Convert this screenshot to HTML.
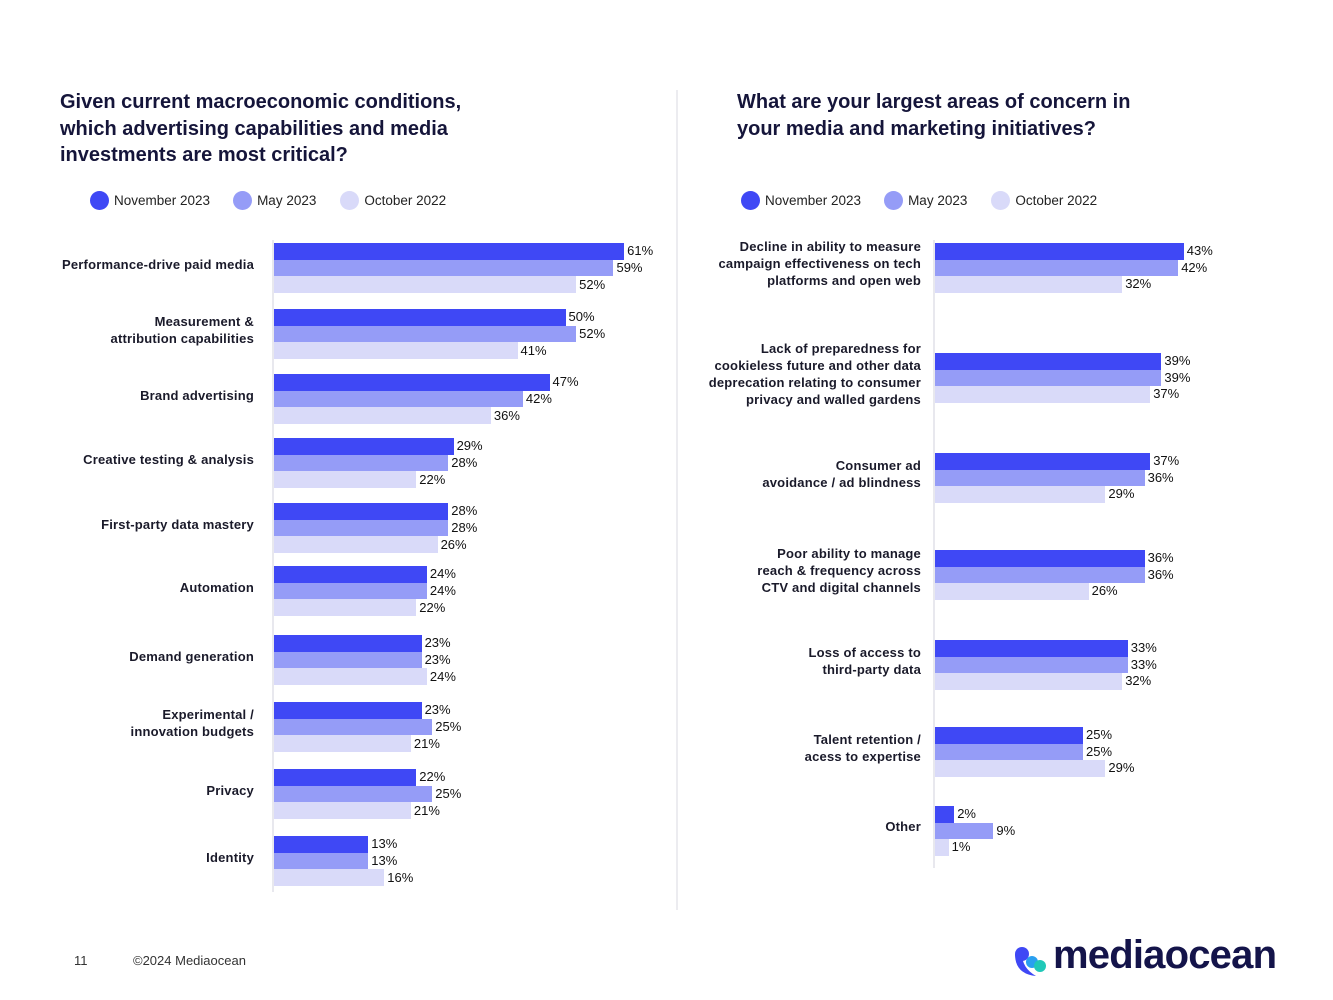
<!DOCTYPE html>
<html><head><meta charset="utf-8"><style>
body{margin:0;width:1333px;height:1000px;background:#fff;position:relative;overflow:hidden;font-family:"Liberation Sans",sans-serif;color:#111}
.abs{position:absolute}
.title{font-size:20px;font-weight:bold;line-height:26.5px;color:#15153a}
.leg{font-size:13.5px;color:#222;display:flex;align-items:center}
.dot{width:19px;height:19px;border-radius:50%;display:inline-block;margin-right:5px}
.cat{font-size:13px;font-weight:bold;text-align:right;line-height:17px;color:#1a1a2a;white-space:nowrap;letter-spacing:0.2px}
.val{font-size:13px;color:#111;line-height:16px}
.axis{background:#e8e8ee;width:2px}
</style></head><body>
<div class="abs title" style="left:60px;top:89px;width:445px">Given current macroeconomic conditions, which advertising capabilities and media investments are most critical?</div>
<div class="abs title" style="left:737px;top:89px;width:432px">What are your largest areas of concern in your media and marketing initiatives?</div>
<div class="abs" style="left:676px;top:90px;width:2px;height:820px;background:#ececf0"></div>

<div class="abs leg" style="left:90px;top:191px">
<span class="leg"><span class="dot" style="background:#3f48f5"></span>November 2023</span>
<span class="leg" style="margin-left:23px"><span class="dot" style="background:#959cf7"></span>May 2023</span>
<span class="leg" style="margin-left:24px"><span class="dot" style="background:#d9daf9"></span>October 2022</span></div>
<div class="abs leg" style="left:741px;top:191px">
<span class="leg"><span class="dot" style="background:#3f48f5"></span>November 2023</span>
<span class="leg" style="margin-left:23px"><span class="dot" style="background:#959cf7"></span>May 2023</span>
<span class="leg" style="margin-left:24px"><span class="dot" style="background:#d9daf9"></span>October 2022</span></div>

<div class="abs" style="left:74px;top:953px;font-size:13px;color:#333">11</div>
<div class="abs" style="left:133px;top:953px;font-size:13px;color:#333">©2024 Mediaocean</div>
<div class="abs" style="left:1012px;top:941px;width:280px;height:40px">
<svg width="40" height="36" style="position:absolute;left:0;top:3px"><circle cx="10" cy="10" r="7" fill="#3f48f5"/><path d="M3 10 Q3 30 24 32 Q10 24 10 10Z" fill="#3f48f5"/><circle cx="20" cy="18" r="6" fill="#2aa0f0"/><circle cx="28" cy="22" r="6" fill="#20c8b8"/></svg>
<span style="position:absolute;left:41px;top:-8px;font-size:40px;font-weight:bold;color:#14144a;letter-spacing:-0.8px">mediaocean</span></div>

<div id="root"></div>
<script>
const leftCats=["Performance-drive paid media","Measurement &\nattribution capabilities","Brand advertising","Creative testing & analysis","First-party data mastery","Automation","Demand generation","Experimental /\ninnovation budgets","Privacy","Identity"];
const leftNov=[61,50,47,29,28,24,23,23,22,13];
const leftMay=[59,52,42,28,28,24,23,25,25,13];
const leftOct=[52,41,36,22,26,22,24,21,21,16];
const rightCats=["Decline in ability to measure\ncampaign effectiveness on tech\nplatforms and open web","Lack of preparedness for\ncookieless future and other data\ndeprecation relating to consumer\nprivacy and walled gardens","Consumer ad\navoidance / ad blindness","Poor ability to manage\nreach & frequency across\nCTV and digital channels","Loss of access to\nthird-party data","Talent retention /\nacess to expertise","Other"];
const rightNov=[43,39,37,36,33,25,2];
const rightMay=[42,39,36,36,33,25,9];
const rightOct=[32,37,29,26,32,29,1];
const colors=["#3f48f5","#959cf7","#d9daf9"];
const root=document.getElementById('root');
function chart(cfg){
  const ax=document.createElement('div');ax.className='abs axis';
  
  
  ax.style.left=(cfg.x0-2)+'px';ax.style.top=cfg.axTop+'px';ax.style.height=cfg.axH+'px';root.appendChild(ax);
  const w=v=>cfg.a+cfg.b*v;
  cfg.cats.forEach((c,i)=>{
    const top=cfg.tops[i];
    const series=[cfg.nov[i],cfg.may[i],cfg.oct[i]];
    series.forEach((v,s)=>{
      const y=top+s*cfg.bh;
      const b=document.createElement('div');b.className='abs';
      
      
      b.style.cssText=`left:${cfg.x0}px;top:${y}px;width:${w(v)}px;height:${cfg.bh}px;background:${colors[s]}`;
      root.appendChild(b);
      const t=document.createElement('div');t.className='abs val';
      
      
      t.textContent=v+'%';
      t.style.left=(cfg.x0+w(v)+3)+'px';t.style.top=(y+cfg.bh/2-8)+'px';
      root.appendChild(t);
    });
    const l=document.createElement('div');l.className='abs cat';
    
    
    const lines=c.split('\n');
    l.innerHTML=lines.join('<br>');
    l.style.right=(1333-cfg.labelRight)+'px';
    l.style.top=(top+cfg.bh*1.5-lines.length*17/2-4)+'px';
    root.appendChild(l);
  });
}
chart({name:'left',cats:leftCats,nov:leftNov,may:leftMay,oct:leftOct,x0:274,labelRight:254,a:25,b:5.33,bh:16.7,
  tops:[243,309,374,438,503,566,635,702,769,836],axTop:240,axH:652});
chart({name:'right',cats:rightCats,nov:rightNov,may:rightMay,oct:rightOct,x0:935,labelRight:921,a:8,b:5.6,bh:16.5,
  tops:[243,353,453,550,640,727,806],axTop:240,axH:628});
</script>
</body></html>
